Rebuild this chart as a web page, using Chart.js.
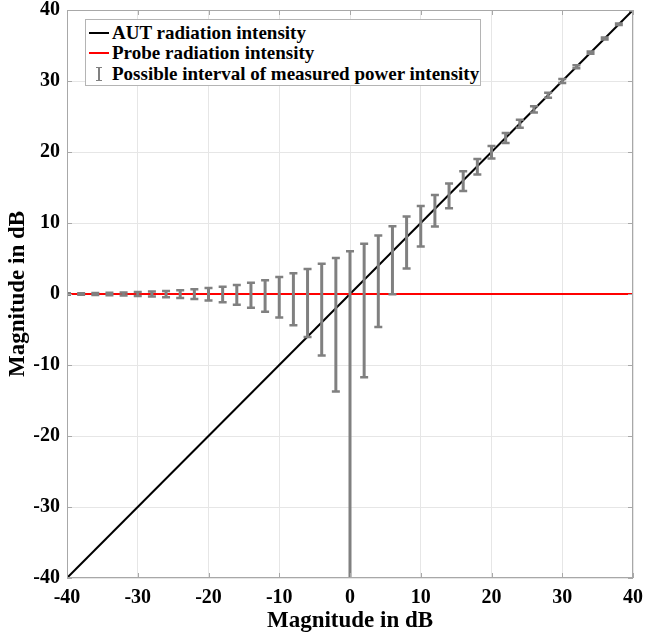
<!DOCTYPE html>
<html>
<head>
<meta charset="utf-8">
<script src="https://cdn.jsdelivr.net/npm/chart.js@4.4.0/dist/chart.umd.min.js"></script>
<style>
  html, body { margin: 0; padding: 0; background: #fff; }
  #wrap { position: relative; width: 646px; height: 641px; }
  #legend {
    position: absolute; left: 85px; top: 19px; width: 394px; height: 65px;
    border: 1px solid #b4b4b4; background: #fff;
    font: bold 19px "Liberation Serif", "Times New Roman", serif; color: #000;
  }
  .row { position: absolute; left: 0; height: 22px; line-height: 22px; white-space: nowrap; }
  .row span.txt { position: absolute; left: 26px; }
  .sw { position: absolute; left: 3px; top: 10px; width: 20px; height: 2px; }
  .ebar { position: absolute; left: 12px; top: 4px; width: 2px; height: 14px; background: #808080; }
  .ebar:before, .ebar:after { content: ""; position: absolute; left: -2px; width: 6px; height: 1px; background: #808080; }
  .ebar:before { top: 0; } .ebar:after { bottom: 0; }
</style>
</head>
<body>
<div id="wrap">
  <canvas id="myChart" width="646" height="641"></canvas>
  <div id="legend">
    <div class="row" style="top:2px"><div class="sw" style="background:#000"></div><span class="txt">AUT radiation intensity</span></div>
    <div class="row" style="top:22px"><div class="sw" style="background:#ff0000"></div><span class="txt">Probe radiation intensity</span></div>
    <div class="row" style="top:43px"><div class="ebar"></div><span class="txt">Possible interval of measured power intensity</span></div>
  </div>
</div>
<script>
// AUT magnitude (dB) where the intervals were evaluated
const magnitudes = [-40, -38, -36, -34, -32, -30, -28, -26, -24, -22, -20, -18, -16, -14, -12, -10, -8, -6, -4, -2,
  0, 2, 4, 6, 8, 10, 12, 14, 16, 18, 20, 22, 24, 26, 28, 30, 32, 34, 36, 38, 40];
// upper / lower end of the possible measured interval (dB)
const upperDb = [0.09, 0.11, 0.14, 0.17, 0.22, 0.27, 0.34, 0.43, 0.53, 0.66, 0.83, 1.03, 1.28, 1.58, 1.95, 2.39, 2.91, 3.53, 4.25, 5.08,
  6.02, 7.08, 8.25, 9.53, 10.91, 12.39, 13.95, 15.58, 17.28, 19.03, 20.83, 22.66, 24.53, 26.43, 28.34, 30.27, 32.22, 34.17, 36.14, 38.11, 40.09];
const lowerDb = [-0.09, -0.11, -0.14, -0.18, -0.22, -0.28, -0.35, -0.45, -0.57, -0.72, -0.92, -1.17, -1.5, -1.93, -2.51, -3.3, -4.41, -6.04, -8.66, -13.74,
  -Infinity, -11.74, -4.66, -0.04, 3.59, 6.7, 9.49, 12.07, 14.5, 16.83, 19.08, 21.28, 23.43, 25.55, 27.65, 29.72, 31.78, 33.83, 35.86, 37.89, 39.91];
// reference lines
const autX = [-40, 40];
const autY = [-40, 40];
const probeX = [-40, 40];
const probeY = [0, 0];
const tickValues = [-40, -30, -20, -10, 0, 10, 20, 30, 40];

const serif = '"Liberation Serif", "Times New Roman", serif';

// MATLAB style box with little inward ticks
const boxPlugin = {
  id: 'boxPlugin',
  afterDraw(chart) {
    const {ctx, chartArea: a, scales: {x, y}} = chart;
    ctx.save();
    ctx.strokeStyle = '#a8a8a8';
    ctx.lineWidth = 1;
    ctx.strokeRect(a.left + 0.5, a.top + 0.5, a.right - a.left - 1, a.bottom - a.top - 1);
    ctx.beginPath();
    tickValues.forEach(v => {
      const px = Math.round(x.getPixelForValue(v)) + 0.5;
      ctx.moveTo(px, a.bottom); ctx.lineTo(px, a.bottom - 5);
      ctx.moveTo(px, a.top); ctx.lineTo(px, a.top + 5);
      const py = Math.round(y.getPixelForValue(v)) + 0.5;
      ctx.moveTo(a.left, py); ctx.lineTo(a.left + 5, py);
      ctx.moveTo(a.right, py); ctx.lineTo(a.right - 5, py);
    });
    ctx.stroke();
    ctx.restore();
  }
};

// error bars from the named arrays through the chart scales
const errorBars = {
  id: 'errorBars',
  afterDatasetsDraw(chart) {
    const {ctx, chartArea: a, scales: {x, y}} = chart;
    ctx.save();
    ctx.beginPath();
    ctx.rect(a.left, a.top, a.right - a.left, a.bottom - a.top);
    ctx.clip();
    ctx.strokeStyle = '#808080';
    magnitudes.forEach((m, i) => {
      const px = x.getPixelForValue(m);
      const top = y.getPixelForValue(upperDb[i]);
      const lowFinite = isFinite(lowerDb[i]);
      const bot = lowFinite ? y.getPixelForValue(lowerDb[i]) : a.bottom;
      ctx.lineWidth = 3;
      ctx.beginPath();
      ctx.moveTo(px, top); ctx.lineTo(px, bot);
      ctx.stroke();
      ctx.lineWidth = 2.5;
      ctx.beginPath();
      ctx.moveTo(px - 4, top); ctx.lineTo(px + 4, top);
      if (lowFinite) { ctx.moveTo(px - 4, bot); ctx.lineTo(px + 4, bot); }
      ctx.stroke();
    });
    ctx.restore();
  }
};

const ctx = document.getElementById('myChart').getContext('2d');

const chart = new Chart(ctx, {
  type: 'scatter',
  data: {
    datasets: [{
      label: 'Probe radiation intensity',
      data: probeX.map((v, i) => ({x: v, y: probeY[i]})),
      showLine: true,
      borderColor: '#ff0000',
      borderWidth: 2,
      pointRadius: 0
    }, {
      label: 'AUT radiation intensity',
      data: autX.map((v, i) => ({x: v, y: autY[i]})),
      showLine: true,
      borderColor: '#000000',
      borderWidth: 2,
      pointRadius: 0
    }]
  },
  options: {
    responsive: false,
    animation: false,
    layout: { padding: { top: 10, right: 13, left: 0, bottom: 0 } },
    plugins: {
      legend: { display: false },
      tooltip: { enabled: false }
    },
    scales: {
      x: {
        type: 'linear', min: -40, max: 40,
        afterBuildTicks: s => { s.ticks = tickValues.map(v => ({value: v})); },
        afterFit: s => { s.height = 63; s.paddingLeft = 0; s.paddingRight = 0; },
        grid: { color: '#e6e6e6', drawTicks: false },
        border: { display: false },
        ticks: { color: '#000', padding: 8, font: { family: serif, size: 20, weight: 'bold' } },
        title: { display: true, text: 'Magnitude in dB', color: '#000', padding: { top: 0, bottom: 6 },
          font: { family: serif, size: 23, weight: 'bold' } }
      },
      y: {
        type: 'linear', min: -40, max: 40,
        afterBuildTicks: s => { s.ticks = tickValues.map(v => ({value: v})); },
        afterFit: s => { s.width = 67; s.paddingTop = 0; s.paddingBottom = 0; },
        grid: { color: '#e6e6e6', drawTicks: false },
        border: { display: false },
        ticks: { color: '#000', padding: 7, font: { family: serif, size: 20, weight: 'bold' } },
        title: { display: true, text: 'Magnitude in dB', color: '#000', padding: { top: 4, bottom: 0 },
          font: { family: serif, size: 23, weight: 'bold' } }
      }
    }
  },
  plugins: [errorBars, boxPlugin]
});
</script>
</body>
</html>
